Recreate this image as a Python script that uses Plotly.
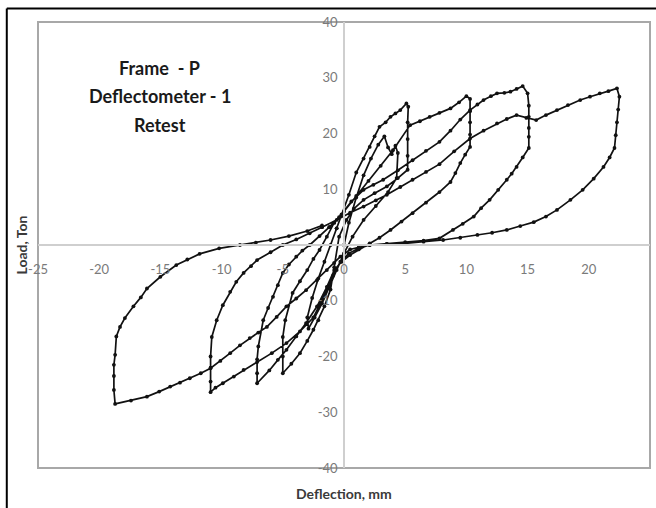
import plotly.graph_objects as go

# ---- data (deflection in mm, load in ton) ----
cycle1_defl = [0.0, 0.4, 1.0, 1.6, 2.2, 2.8, 3.3, 3.6, 3.9, 4.2, 4.4, 4.3, 3.6, 2.6, 1.6, 0.7, 0.0, -0.6, -1.2, -1.8,
               -2.4, -2.9, -3.0, -2.6, -2.1, -1.6, -1.1, -0.6]
cycle1_load = [0.0, 4.0, 8.5, 12.5, 15.5, 18.0, 19.5, 17.5, 16.3, 17.8, 16.5, 12.0, 9.5, 7.0, 4.5, 1.5, -1.5, -4.5, -7.5,
               -10.5, -13.0, -15.0, -13.0, -9.5, -6.0, -3.0, 0.0, 3.0]

cycle2_defl = [-0.6, -0.2, 0.4, 1.0, 1.6, 2.1, 2.5, 2.9, 3.4, 3.8, 4.2, 4.6, 5.1, 5.25, 5.2, 5.2, 5.2, 5.2, 4.4, 3.5,
               2.5, 1.6, 0.8, 0.2, -0.4, -0.8, -1.1, -1.6, -2.1, -2.5, -3.0, -3.6, -4.3, -5.0, -5.0, -5.0, -4.8,
               -4.2, -3.6, -3.0, -2.5, -2.0, -1.4, -0.8]
cycle2_load = [3.0, 5.5, 9.0, 13.0, 15.5, 17.6, 19.5, 21.2, 22.0, 23.0, 23.6, 24.2, 25.4, 24.8, 22.0, 19.0, 16.0, 13.5,
               12.0, 10.5, 9.3, 8.1, 6.5, 4.5, 1.5, -4.0, -8.0, -11.0, -13.5, -15.2, -17.2, -19.4, -21.3, -23.0, -20.0,
               -16.5, -13.5, -8.6, -6.5, -4.5, -2.5, -0.9, 1.5, 4.0]

cycle3_defl = [-0.8, 0.0, 1.0, 2.0, 3.0, 4.0, 5.4, 6.2, 7.0, 7.8, 8.7, 9.4, 10.0, 10.3, 10.3, 10.3, 10.3, 10.3, 9.9,
               9.5, 9.1, 8.7, 7.8, 6.7, 5.6, 4.7, 3.8, 2.9, 2.1, 1.2, 0.5, -0.2, -0.8, -1.4, -2.2, -3.1, -3.9, -4.7,
               -5.4, -6.1, -7.1, -7.1, -7.1, -7.0, -6.6, -6.2, -5.8, -5.4, -5.0, -4.5, -3.9, -3.4, -2.8, -2.0, -1.2]
cycle3_load = [4.0, 6.0, 8.8, 11.5, 14.2, 17.0, 21.5, 22.2, 23.0, 23.7, 24.5, 25.6, 26.7, 26.2, 24.0, 22.0, 19.8, 17.6,
               16.2, 14.7, 12.9, 11.3, 9.5, 7.6, 5.7, 4.2, 2.7, 1.3, 0.3, -0.8, -1.8, -3.0, -4.5, -7.5, -11.0, -14.0,
               -16.4, -18.8, -20.6, -22.5, -24.8, -23.0, -20.5, -18.2, -13.5, -11.3, -9.3, -7.2, -5.0, -3.5, -2.1,
               -1.0, 0.0, 1.6, 3.2]

cycle4_defl = [-1.2, -0.4, 0.6, 1.6, 2.4, 3.2, 4.4, 5.6, 6.7, 7.8, 8.7, 9.5, 10.3, 10.9, 11.4, 12.0, 12.5, 13.1, 13.6,
               14.1, 14.6, 15.0, 15.1, 15.1, 15.1, 15.1, 15.1, 14.6, 14.1, 13.7, 13.3, 12.6, 11.9, 11.2, 10.6, 9.7,
               8.9, 7.8, 6.5, 5.0, 3.5, 2.1, 1.2, 0.4, -0.3, -0.9, -1.7, -2.5, -3.6, -4.7, -5.9, -7.1, -8.2, -9.0,
               -9.9, -10.5, -10.9, -10.9, -10.9, -10.9, -10.8, -10.4, -9.9, -9.3, -8.8, -8.2, -7.6, -7.1, -6.0, -5.0,
               -3.9, -2.8, -1.8]
cycle4_load = [3.2, 5.0, 7.8, 9.9, 10.8, 11.7, 13.4, 15.2, 16.9, 18.5, 20.5, 22.5, 24.2, 25.2, 26.0, 26.7, 27.2, 27.3,
               27.5, 28.0, 28.5, 27.2, 25.0, 23.0, 21.0, 19.4, 17.4, 15.7, 14.0, 12.8, 11.7, 9.9, 8.1, 6.6, 5.1, 3.8,
               2.7, 1.2, 0.8, 0.5, 0.2, 0.0, -0.6, -1.5, -3.0, -5.5, -9.5, -13.0, -15.5, -17.6, -19.4, -21.0, -22.4,
               -23.6, -24.8, -25.6, -26.4, -24.5, -22.0, -20.0, -16.5, -13.5, -10.8, -8.4, -6.6, -5.0, -3.8, -2.7,
               -1.3, 0.0, 1.0, 2.1, 3.2]

cycle5_defl = [-1.8, -0.6, 0.5, 1.6, 2.6, 3.5, 4.6, 5.6, 6.7, 7.8, 9.0, 10.3, 11.4, 12.5, 13.3, 14.1, 14.9, 15.7, 16.5,
               17.4, 18.3, 19.3, 20.1, 20.9, 21.6, 22.3, 22.5, 22.4, 22.3, 22.2, 22.1, 21.7, 21.2, 20.4, 19.5, 18.5,
               17.4, 16.5, 15.5, 14.4, 13.3, 12.1, 10.9, 9.5, 8.1, 6.5, 5.0, 3.5, 2.1, 1.2, 0.5, -0.3, -0.8, -1.4,
               -2.2, -3.1, -3.9, -4.7, -5.5, -6.3, -7.0, -7.7, -8.5, -9.3, -10.1, -10.9, -11.7, -12.6, -13.4, -14.2,
               -15.1, -16.1, -17.4, -18.7, -18.8, -18.8, -18.8, -18.7, -18.6, -18.3, -17.9, -17.2, -16.6, -16.1,
               -15.0, -13.7, -12.8, -11.8, -10.2, -8.5, -7.2, -6.0, -4.5, -3.0, -1.8]
cycle5_load = [3.2, 4.5, 5.8, 6.9, 8.0, 9.0, 10.4, 11.7, 13.1, 14.5, 16.8, 19.1, 20.5, 21.8, 22.6, 23.3, 22.8, 22.4,
               23.3, 24.2, 25.1, 26.0, 26.6, 27.2, 27.6, 28.1, 26.6, 24.3, 22.0, 19.7, 17.4, 15.7, 14.0, 11.9, 9.9,
               8.1, 6.3, 5.1, 4.1, 3.4, 2.7, 2.2, 1.8, 1.3, 0.9, 0.6, 0.3, 0.2, 0.0, -0.4, -0.8, -2.1, -3.2, -4.5,
               -6.3, -8.1, -9.6, -11.0, -12.9, -14.7, -15.7, -16.7, -18.0, -19.4, -20.8, -22.1, -23.0, -23.9, -24.7,
               -25.4, -26.3, -27.2, -27.9, -28.5, -26.0, -23.5, -21.5, -19.7, -16.4, -14.7, -13.1, -11.0, -9.4, -7.8,
               -5.7, -3.6, -2.6, -1.6, -0.6, 0.0, 0.4, 0.9, 1.6, 2.5, 3.5]

x_ticks = [-25, -20, -15, -10, -5, 0, 5, 10, 15, 20, 25]
y_ticks = [-40, -30, -20, -10, 0, 10, 20, 30, 40]
note_lines = ["Frame  - P", "Deflectometer - 1", "Retest"]

defl = cycle1_defl + cycle2_defl + cycle3_defl + cycle4_defl + cycle5_defl
load = cycle1_load + cycle2_load + cycle3_load + cycle4_load + cycle5_load

fig = go.Figure()
fig.add_trace(go.Scatter(
    x=defl, y=load, mode="lines+markers",
    line=dict(color="#111111", width=1.7),
    marker=dict(color="#111111", size=3.8),
    hoverinfo="skip", showlegend=False,
))

tick_font = dict(family="Lato, Open Sans, sans-serif", size=13, color="#7a7a7a")
fig.update_layout(
    width=656, height=508,
    margin=dict(l=38, r=6, t=22, b=40),
    paper_bgcolor="white", plot_bgcolor="white",
    xaxis=dict(range=[-25, 25], tickvals=x_ticks, ticktext=[str(v) for v in x_ticks],
               anchor="free", position=0.5, showline=True, linecolor="#cfcfcf", linewidth=1.5,
               showgrid=False, zeroline=False, ticks="outside", ticklen=13, tickcolor="rgba(0,0,0,0)",
               tickfont=tick_font, fixedrange=True),
    yaxis=dict(range=[-40, 40], tickvals=y_ticks, ticktext=[str(v) if v != 0 else "" for v in y_ticks],
               anchor="free", position=0.5, showline=True, linecolor="#cfcfcf", linewidth=1.5,
               showgrid=False, zeroline=False, ticks="outside", ticklen=3, tickcolor="rgba(0,0,0,0)",
               tickfont=tick_font, fixedrange=True),
    shapes=[
        dict(type="rect", xref="paper", yref="paper", x0=0, x1=1, y0=0, y1=1,
             line=dict(color="#a8a8a8", width=2), layer="below"),
        dict(type="line", xref="paper", yref="paper", x0=-0.051, x1=-0.051, y0=-0.1, y1=1.03,
             line=dict(color="black", width=2)),
        dict(type="line", xref="paper", yref="paper", x0=-0.051, x1=1.01, y0=1.03, y1=1.03,
             line=dict(color="black", width=2)),
    ],
)

title_font = dict(family="Lato, Open Sans, sans-serif", size=14, color="#3a3a3a")
fig.add_annotation(text="<b>Deflection, mm</b>", xref="paper", yref="paper", x=0.5, y=-0.058,
                   showarrow=False, font=title_font, yanchor="middle", xanchor="center")
fig.add_annotation(text="<b>Load, Ton</b>", xref="paper", yref="paper", x=-0.027, y=0.5,
                   showarrow=False, font=title_font, textangle=-90, xanchor="center", yanchor="middle")

note_font = dict(family="Lato, Open Sans, sans-serif", size=18, color="#1a1a1a")
for i, line in enumerate(note_lines):
    fig.add_annotation(text="<b>" + line + "</b>", xref="paper", yref="paper", x=0.199,
                       y=0.897 - i * 0.064, showarrow=False, font=note_font,
                       xanchor="center", yanchor="middle")

fig.write_html("out.html")
